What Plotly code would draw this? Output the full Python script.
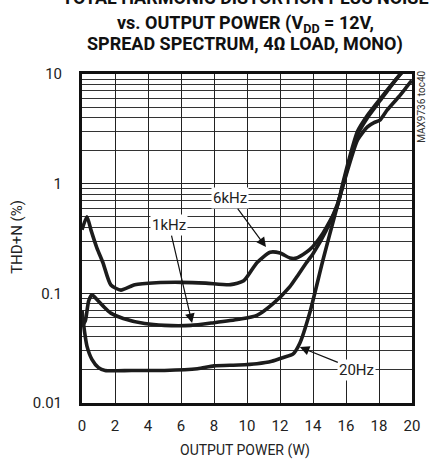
import numpy as np
import plotly.graph_objects as go

# ---- data ----
p_20hz = [0, 0.15, 0.3, 0.6, 1.0, 1.4, 3, 5, 7, 8, 9.5, 10.6, 11.5, 12.2, 12.8, 13.2, 13.8, 14.6, 15.4, 16.1, 16.7, 17.3, 17.7, 18.06, 18.5, 19.2, 19.9, 20.0]
thd_20hz = [0.07, 0.045, 0.033, 0.025, 0.021, 0.0198, 0.0198, 0.0198, 0.0205, 0.0218, 0.0222, 0.0228, 0.024, 0.026, 0.028, 0.035, 0.066, 0.2, 0.57, 1.33, 2.5, 3.3, 3.6, 3.8, 4.7, 6.2, 8.4, 8.7]

p_1khz = [0, 0.2, 0.4, 0.6, 0.9, 1.3, 1.75, 2.5, 3.8, 5, 6.6, 8, 9.5, 10.6, 11.6, 12.6, 13.0, 13.6, 14.0, 14.8, 15.5, 15.8, 16.2, 16.7, 17.3, 18.06, 19.3, 19.7]
thd_1khz = [0.05, 0.056, 0.085, 0.097, 0.088, 0.076, 0.066, 0.059, 0.053, 0.051, 0.051, 0.054, 0.058, 0.063, 0.081, 0.115, 0.14, 0.19, 0.23, 0.375, 0.66, 0.95, 1.6, 2.8, 4.0, 5.7, 10, 11.5]

p_6khz = [0, 0.3, 0.55, 0.9, 1.27, 1.75, 2.36, 3.2, 4.5, 6, 7.5, 9.0, 9.8, 10.6, 11.4, 12.0, 12.6, 13.0, 13.8, 14.6, 15.45, 15.8, 16.2, 16.7, 17.3, 18.06, 19.3, 19.7]
thd_6khz = [0.38, 0.5, 0.375, 0.26, 0.19, 0.119, 0.107, 0.12, 0.125, 0.126, 0.124, 0.12, 0.13, 0.19, 0.237, 0.233, 0.21, 0.21, 0.25, 0.354, 0.61, 1.0, 1.7, 3.0, 4.2, 5.9, 10, 11.5]

label_text = ["6kHz", "1kHz", "20Hz"]
label_x = [11.15, 6.67, 13.2]
label_y = [0.264, 0.0535, 0.0324]
label_ax = [-36, -23, 57]
label_ay = [-49, -98, 23]

x_ticks = [0, 2, 4, 6, 8, 10, 12, 14, 16, 18, 20]
y_ticks = [0.01, 0.1, 1, 10]
y_ticktext = ["0.01", "0.1", "1", "10"]
y_minor = [m * d for d in (0.01, 0.1, 1) for m in range(2, 10)]

title_lines = [
    "TOTAL HARMONIC DISTORTION PLUS NOISE",
    "vs. OUTPUT POWER (V<sub>DD</sub> = 12V,",
    "SPREAD SPECTRUM, 4\u03a9 LOAD, MONO)",
]

FONT = "Roboto, Liberation Sans, sans-serif"
LINE = "#1c1c1c"

fig = go.Figure()
for px_, py_ in ((p_20hz, thd_20hz), (p_1khz, thd_1khz), (p_6khz, thd_6khz)):
    fig.add_trace(go.Scatter(x=px_, y=py_, mode="lines",
                             line=dict(color=LINE, width=3.6, shape="spline", smoothing=0.6),
                             showlegend=False, hoverinfo="skip"))

annotations = []
for t, x, y, ax, ay in zip(label_text, label_x, label_y, label_ax, label_ay):
    annotations.append(dict(x=x, y=np.log10(y), xref="x", yref="y", text=t,
                            showarrow=True, ax=ax, ay=ay, arrowhead=2, arrowsize=1.6,
                            arrowwidth=1.2, arrowcolor="#111", bgcolor="white", borderpad=1,
                            font=dict(family=FONT, size=15, color="#222")))

title_y = [1.232, 1.152, 1.092]
for t, ty in zip(title_lines, title_y):
    annotations.append(dict(x=0.494, y=ty, xref="paper", yref="paper", text="<b>" + t + "</b>",
                            showarrow=False, xanchor="center", yanchor="middle",
                            font=dict(family=FONT, size=18, color="#111")))

annotations.append(dict(x=-0.197, y=0.505, xref="paper", yref="paper", text="THD+N (%)",
                        textangle=-90, showarrow=False, xanchor="center", yanchor="middle",
                        font=dict(family=FONT, size=15, color="#222")))
annotations.append(dict(x=0.494, y=-0.143, xref="paper", yref="paper", text="OUTPUT POWER (W)",
                        showarrow=False, xanchor="center", yanchor="middle",
                        font=dict(family=FONT, size=14, color="#222")))
annotations.append(dict(x=1.03, y=0.9, xref="paper", yref="paper", text="MAX9736 toc40",
                        textangle=-90, showarrow=False, xanchor="center", yanchor="middle",
                        font=dict(family=FONT, size=10, color="#333")))

fig.update_layout(
    width=434, height=459,
    margin=dict(l=82, r=22, t=74, b=56),
    paper_bgcolor="white", plot_bgcolor="white",
    annotations=annotations,
    xaxis=dict(range=[0, 20], tickvals=x_ticks, showgrid=True, gridcolor="#222", gridwidth=1,
               showline=True, linecolor="#111", linewidth=3, mirror=True, zeroline=False,
               ticks="outside", ticklen=7, tickcolor="rgba(0,0,0,0)",
               tickfont=dict(family=FONT, size=15, color="#222")),
    yaxis=dict(type="log", range=[-2, 1], tickvals=y_ticks, ticktext=y_ticktext,
               showgrid=True, gridcolor="#222", gridwidth=1,
               minor=dict(tickvals=y_minor, showgrid=True, gridcolor="#333", gridwidth=1, ticks=""),
               showline=True, linecolor="#111", linewidth=3, mirror=True, zeroline=False,
               ticks="outside", ticklen=14, tickcolor="rgba(0,0,0,0)",
               tickfont=dict(family=FONT, size=15, color="#222")),
)

fig.write_html("out.html", config={"displayModeBar": False},
               post_script="document.body.style.margin='0';")
